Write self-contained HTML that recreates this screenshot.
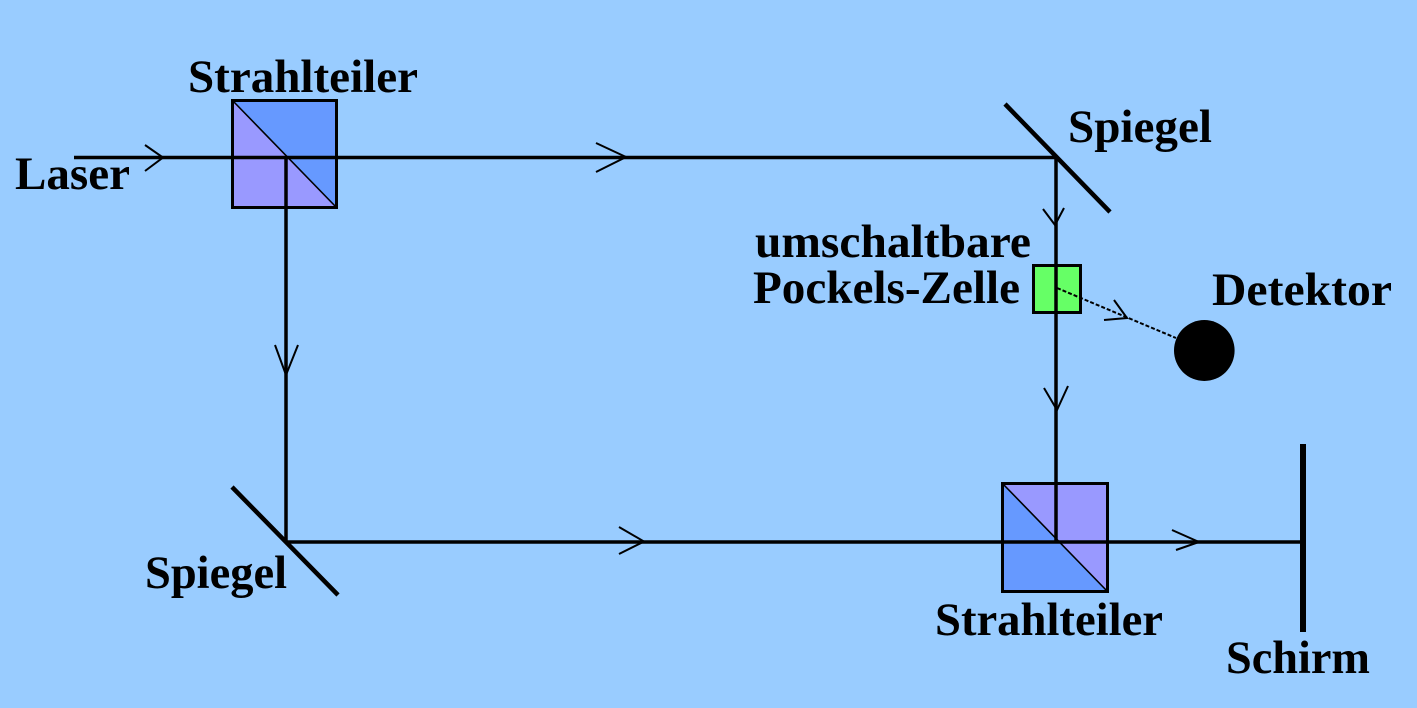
<!DOCTYPE html>
<html>
<head>
<meta charset="utf-8">
<style>
  html, body { margin: 0; padding: 0; background: #99CCFF; }
  svg { display: block; }
  text { font-family: "Liberation Serif", serif; font-weight: bold; font-size: 47px; fill: #000; }
</style>
</head>
<body>
<svg width="1417" height="708" viewBox="0 0 1417 708" xmlns="http://www.w3.org/2000/svg">
  <rect x="0" y="0" width="1417" height="708" fill="#99CCFF"/>

  <!-- Beam splitter 1 -->
  <polygon points="232.5,100.5 336.5,100.5 336.5,207.5" fill="#6699FF"/>
  <polygon points="232.5,100.5 232.5,207.5 336.5,207.5" fill="#9999FF"/>
  <line x1="232.5" y1="100.5" x2="336.5" y2="207.5" stroke="#000" stroke-width="1.6"/>
  <rect x="232.5" y="100.5" width="104" height="107" fill="none" stroke="#000" stroke-width="3"/>

  <!-- Beam splitter 2 -->
  <polygon points="1002.5,483.5 1107.5,483.5 1107.5,591.5" fill="#9999FF"/>
  <polygon points="1002.5,483.5 1002.5,591.5 1107.5,591.5" fill="#6699FF"/>
  <line x1="1002.5" y1="483.5" x2="1107.5" y2="591.5" stroke="#000" stroke-width="1.6"/>
  <rect x="1002.5" y="483.5" width="105" height="108" fill="none" stroke="#000" stroke-width="3"/>

  <!-- Pockels cell -->
  <rect x="1033.5" y="265.5" width="47" height="47" fill="#66FF66" stroke="#000" stroke-width="3"/>

  <!-- Beams -->
  <g stroke="#000" stroke-width="3.5" fill="none" stroke-linecap="butt">
    <line x1="74" y1="157.5" x2="1056" y2="157.5"/>
    <line x1="1056" y1="157.5" x2="1056" y2="542"/>
    <line x1="286" y1="157.5" x2="286" y2="542"/>
    <line x1="286" y1="542" x2="1303" y2="542"/>
  </g>

  <!-- Arrowheads -->
  <g stroke="#000" stroke-width="2" fill="none">
    <polyline points="145,145 163,157.5 145,171"/>
    <polyline points="596,143 626,157 596,172"/>
    <polyline points="275,345 286,375 298,345"/>
    <polyline points="1043,209 1055,225 1064,208"/>
    <polyline points="1044,388 1057,410 1068,386"/>
    <polyline points="619,527 644,541.5 619,554"/>
    <polyline points="1172,530 1199,542 1176,550"/>
    <polyline points="1114,300 1127,318 1104,320"/>
  </g>

  <!-- Dashed line to detector -->
  <line x1="1057" y1="288" x2="1176" y2="338" stroke="#000" stroke-width="2" stroke-dasharray="4,2"/>

  <!-- Detector -->
  <ellipse cx="1204.3" cy="350.5" rx="30.3" ry="30.5" fill="#000"/>

  <!-- Mirrors -->
  <g stroke="#000" stroke-width="4.5" stroke-linecap="butt">
    <line x1="1005" y1="104" x2="1110" y2="212"/>
    <line x1="232" y1="487" x2="338" y2="595"/>
  </g>
  <!-- Screen -->
  <line x1="1303" y1="444" x2="1303" y2="632" stroke="#000" stroke-width="6"/>

  <!-- Labels -->
  <text x="188" y="92" textLength="230" lengthAdjust="spacingAndGlyphs">Strahlteiler</text>
  <text x="15" y="189" textLength="115" lengthAdjust="spacingAndGlyphs">Laser</text>
  <text x="1068" y="142" textLength="144" lengthAdjust="spacingAndGlyphs">Spiegel</text>
  <text x="755" y="257" textLength="276" lengthAdjust="spacingAndGlyphs">umschaltbare</text>
  <text x="753" y="303" textLength="267" lengthAdjust="spacingAndGlyphs">Pockels-Zelle</text>
  <text x="1212" y="305" textLength="180" lengthAdjust="spacingAndGlyphs">Detektor</text>
  <text x="145" y="588" textLength="142" lengthAdjust="spacingAndGlyphs">Spiegel</text>
  <text x="935" y="635" textLength="228" lengthAdjust="spacingAndGlyphs">Strahlteiler</text>
  <text x="1226" y="673" textLength="144" lengthAdjust="spacingAndGlyphs">Schirm</text>
</svg>
</body>
</html>
